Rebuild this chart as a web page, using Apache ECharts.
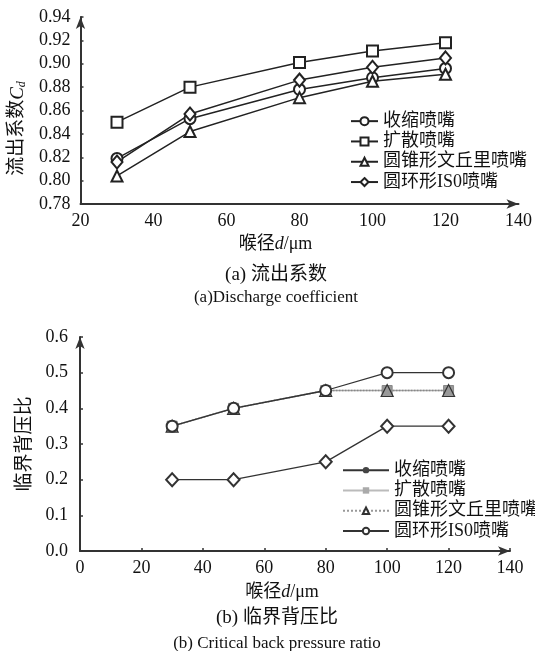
<!DOCTYPE html>
<html>
<head>
<meta charset="utf-8">
<script src="https://cdn.jsdelivr.net/npm/echarts@6/dist/echarts.min.js"></script>
<style>
  html, body { margin: 0; padding: 0; background: #fff; }
  #chartA { position: absolute; left: 0; top: 0; width: 535px; height: 320px; }
  #chartB { position: absolute; left: 0; top: 320px; width: 535px; height: 331px; }
</style>
</head>
<body>
<div id="chartA"></div>
<div id="chartB"></div>
<script>
// Throat diameters (µm) shared by both panels
const diameters = [30, 50, 80, 100, 120];
const nozzleNames = ['收缩喷嘴', '扩散喷嘴', '圆锥形文丘里喷嘴', '圆环形IS0喷嘴'];

// (a) discharge coefficient Cd
const cdConvergent = [0.819, 0.853, 0.878, 0.888, 0.896];
const cdDivergent = [0.850, 0.880, 0.901, 0.911, 0.918];
const cdConicalVenturi = [0.804, 0.842, 0.871, 0.885, 0.891];
const cdToroidalISO = [0.816, 0.857, 0.886, 0.897, 0.905];

// (b) critical back pressure ratio
const crConvergent = [0.35, 0.40, 0.45, 0.50, 0.50];
const crDivergent = [0.35, 0.40, 0.45, 0.45, 0.45];
const crConicalVenturi = [0.35, 0.40, 0.45, 0.45, 0.45];
const crToroidalISO = [0.20, 0.20, 0.25, 0.35, 0.35];

// axis ranges
const xRangeA = [20, 140], xStepA = 20;
const yRangeA = [0.78, 0.94], yStepA = 0.02;
const xRangeB = [0, 140], xStepB = 20;
const yRangeB = [0.0, 0.6], yStepB = 0.1;

const FONT = '"Liberation Serif", "Noto Sans CJK SC", serif';
const INK = '#222';

function pairs(ys) { return diameters.map((d, i) => [d, ys[i]]); }

function axisCommon(extra) {
  return Object.assign({
    type: 'value',
    splitLine: { show: false },
    axisLine: { show: true, lineStyle: { color: '#333', width: 2 },
                symbol: ['none', 'arrow'], symbolSize: [7, 12] },
    axisTick: { show: true, inside: true, length: 3, lineStyle: { color: '#333', width: 1.5 } },
    axisLabel: { color: '#111', fontFamily: FONT, fontSize: 18 }
  }, extra);
}

// ---------- panel (a) ----------
const chartA = echarts.init(document.getElementById('chartA'), null, { renderer: 'canvas' });
const lineA = { color: INK, width: 1.5 };
// hollow markers: the stroke takes the item colour, the fill stays white
const symA = { color: INK, borderWidth: 1.3 };
chartA.setOption({
  animation: false,
  backgroundColor: '#fff',
  grid: { left: 80, top: 17, width: 442, height: 187, containLabel: false },
  title: [
    { text: '(a) 流出系数', left: 271, top: 261, textAlign: 'center',
      textStyle: { fontFamily: FONT, fontSize: 19, fontWeight: 'normal', color: '#111' } },
    { text: '(a)Discharge coefficient', left: 271, top: 284, textAlign: 'center',
      textStyle: { fontFamily: FONT, fontSize: 17, fontWeight: 'normal', color: '#111' } }
  ],
  legend: {
    orient: 'vertical', left: 345, top: 106, itemWidth: 27, itemHeight: 10, itemGap: 0,
    selectedMode: false,
    textStyle: { fontFamily: FONT, fontSize: 18, lineHeight: 20.3, color: '#111' },
    data: nozzleNames
  },
  xAxis: axisCommon({
    min: xRangeA[0], max: xRangeA[1], interval: xStepA,
    axisTick: { show: false },
    axisLabel: { color: '#111', fontFamily: FONT, fontSize: 18, margin: 8 },
    name: '喉径{i|d}/μm', nameLocation: 'middle', nameGap: 30,
    nameTextStyle: { fontFamily: FONT, fontSize: 18, color: '#111', padding: [0, 48, 0, 0],
      rich: { i: { fontFamily: FONT, fontSize: 18, fontStyle: 'italic', color: '#111' } } }
  }),
  yAxis: axisCommon({
    min: yRangeA[0], max: yRangeA[1], interval: yStepA,
    axisLabel: { color: '#111', fontFamily: FONT, fontSize: 18, margin: 10,
                 formatter: v => v.toFixed(2) },
    name: '流出系数{c|C}{d|d}', nameLocation: 'middle', nameGap: 53,
    nameTextStyle: { fontFamily: FONT, fontSize: 19, color: '#111', padding: [0, 36, 0, 0],
      rich: {
        c: { fontFamily: FONT, fontSize: 19, fontStyle: 'italic', color: '#111' },
        d: { fontFamily: FONT, fontSize: 12, fontStyle: 'italic', color: '#111', verticalAlign: 'bottom', padding: [8, 0, 0, 0] }
      } }
  }),
  series: [
    { name: nozzleNames[0], type: 'line', data: pairs(cdConvergent), symbol: 'emptyCircle', symbolSize: 11,
      lineStyle: lineA, itemStyle: symA, z: 3 },
    { name: nozzleNames[1], type: 'line', data: pairs(cdDivergent), symbol: 'emptyRect', symbolSize: 11,
      lineStyle: lineA, itemStyle: symA, z: 3 },
    { name: nozzleNames[2], type: 'line', data: pairs(cdConicalVenturi), symbol: 'emptyTriangle', symbolSize: 11,
      lineStyle: lineA, itemStyle: symA, z: 3 },
    { name: nozzleNames[3], type: 'line', data: pairs(cdToroidalISO), symbol: 'emptyDiamond', symbolSize: [11, 13],
      lineStyle: lineA, itemStyle: symA, z: 3 }
  ]
});

// ---------- panel (b) ----------
const chartB = echarts.init(document.getElementById('chartB'), null, { renderer: 'canvas' });
// legend keys: first series of each name supplies the legend icon
const legendKeys = [
  { name: nozzleNames[0], symbol: 'circle', lineStyle: { color: '#333', width: 2 },
    itemStyle: { color: '#444' } },
  { name: nozzleNames[1], symbol: 'rect', lineStyle: { color: '#bbb', width: 2 },
    itemStyle: { color: '#aaa' } },
  { name: nozzleNames[2], symbol: 'emptyTriangle', lineStyle: { color: '#999', width: 2, type: 'dotted' },
    itemStyle: { color: '#333', borderWidth: 0.8 } },
  { name: nozzleNames[3], symbol: 'emptyCircle', lineStyle: { color: '#333', width: 2 },
    itemStyle: { color: '#333', borderWidth: 1 } }
].map(k => Object.assign({ type: 'line', data: [], silent: true }, k));

chartB.setOption({
  animation: false,
  backgroundColor: '#fff',
  grid: { left: 80, top: 17, width: 430, height: 214, containLabel: false },
  title: [
    { text: '(b) 临界背压比', left: 272, top: 284, textAlign: 'center',
      textStyle: { fontFamily: FONT, fontSize: 19, fontWeight: 'normal', color: '#111' } },
    { text: '(b) Critical back pressure ratio', left: 272, top: 310, textAlign: 'center',
      textStyle: { fontFamily: FONT, fontSize: 17, fontWeight: 'normal', color: '#111' } }
  ],
  legend: {
    orient: 'vertical', left: 337, top: 135, itemWidth: 46, itemHeight: 8, itemGap: 0,
    selectedMode: false,
    textStyle: { fontFamily: FONT, fontSize: 18, lineHeight: 20.3, color: '#111' },
    data: nozzleNames
  },
  xAxis: axisCommon({
    min: xRangeB[0], max: xRangeB[1], interval: xStepB,
    axisLabel: { color: '#111', fontFamily: FONT, fontSize: 18, margin: 8 },
    name: '喉径{i|d}/μm', nameLocation: 'middle', nameGap: 32,
    nameTextStyle: { fontFamily: FONT, fontSize: 18, color: '#111', padding: [0, 26, 0, 0],
      rich: { i: { fontFamily: FONT, fontSize: 18, fontStyle: 'italic', color: '#111' } } }
  }),
  yAxis: axisCommon({
    min: yRangeB[0], max: yRangeB[1], interval: yStepB,
    axisLabel: { color: '#111', fontFamily: FONT, fontSize: 18, margin: 12,
                 formatter: v => v.toFixed(1) },
    name: '临界背压比', nameLocation: 'middle', nameGap: 43,
    nameTextStyle: { fontFamily: FONT, fontSize: 19, color: '#111' }
  }),
  series: legendKeys.concat([
    { name: nozzleNames[1], type: 'line', data: pairs(crDivergent), symbol: 'rect', symbolSize: 10,
      lineStyle: { color: '#aaa', width: 1.5 }, itemStyle: { color: '#999', borderColor: '#888', borderWidth: 1 }, z: 2 },
    { name: nozzleNames[2], type: 'line', data: pairs(crConicalVenturi), symbol: 'triangle', symbolSize: 12,
      lineStyle: { color: '#888', width: 1.5, type: 'dotted' }, itemStyle: { color: '#999', borderColor: '#333', borderWidth: 1.2 }, z: 3 },
    { name: nozzleNames[0], type: 'line', data: pairs(crConvergent), symbol: 'emptyCircle', symbolSize: 11,
      lineStyle: { color: '#333', width: 1.3 }, itemStyle: { color: '#333', borderWidth: 1.2 }, z: 4 },
    { name: nozzleNames[3], type: 'line', data: pairs(crToroidalISO), symbol: 'emptyDiamond', symbolSize: [12, 13],
      lineStyle: { color: '#333', width: 1.3 }, itemStyle: { color: '#333', borderWidth: 1.2 }, z: 4 }
  ])
});
</script>
</body>
</html>
